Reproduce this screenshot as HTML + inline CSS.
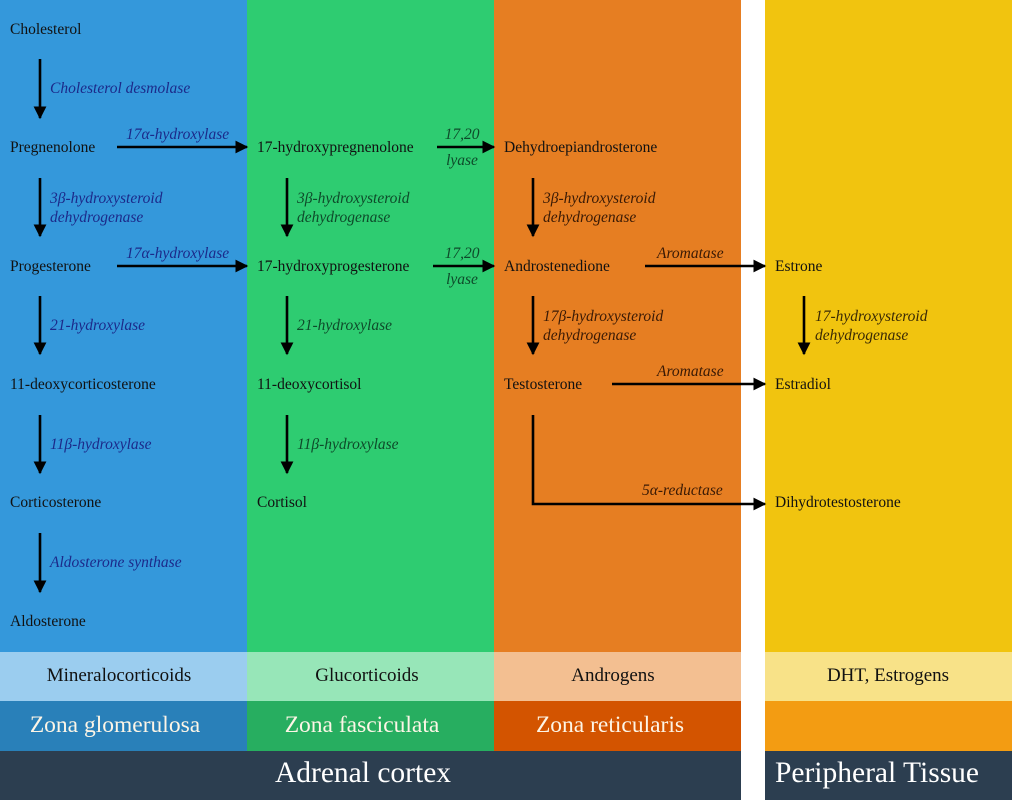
<!DOCTYPE html>
<html><head><meta charset="utf-8"><style>
html,body{margin:0;padding:0;background:#fff;}
svg{display:block;font-family:"Liberation Serif",serif;}
.t{font-size:15.5px;fill:#111;}
.e{font-size:15.5px;font-style:italic;}
</style></head><body>
<svg width="1012" height="800" viewBox="0 0 1012 800" xmlns="http://www.w3.org/2000/svg">
<defs><marker id="a" viewBox="0 0 10 10" refX="9" refY="5" markerWidth="5" markerHeight="5" orient="auto" markerUnits="strokeWidth"><path d="M0,0L10,5L0,10z" fill="#000"/></marker></defs>
<rect x="0" y="0" width="247" height="652" fill="#3498db"/>
<rect x="247" y="0" width="247" height="652" fill="#2ecc71"/>
<rect x="494" y="0" width="247" height="652" fill="#e67e22"/>
<rect x="765" y="0" width="247" height="652" fill="#f1c40f"/>
<rect x="0" y="652" width="247" height="49" fill="#9bcdef"/>
<rect x="247" y="652" width="247" height="49" fill="#97e6b8"/>
<rect x="494" y="652" width="247" height="49" fill="#f3bf91"/>
<rect x="765" y="652" width="247" height="49" fill="#f8e288"/>
<rect x="0" y="701" width="247" height="50" fill="#2980b9"/>
<rect x="247" y="701" width="247" height="50" fill="#27ae60"/>
<rect x="494" y="701" width="247" height="50" fill="#d35400"/>
<rect x="765" y="701" width="247" height="50" fill="#f39c12"/>
<rect x="0" y="751" width="741" height="49" fill="#2c3e50"/>
<rect x="765" y="751" width="247" height="49" fill="#2c3e50"/>
<g font-size="19" fill="#111" text-anchor="middle">
<text x="119" y="681">Mineralocorticoids</text><text x="367" y="681">Glucorticoids</text>
<text x="613" y="681">Androgens</text><text x="888" y="681">DHT, Estrogens</text></g>
<g font-size="23.5" fill="#fdf5e6" text-anchor="middle">
<text x="115" y="732">Zona glomerulosa</text><text x="362" y="732">Zona fasciculata</text>
<text x="610" y="732">Zona reticularis</text></g>
<g font-size="29.5" fill="#fff" text-anchor="middle">
<text x="363" y="782">Adrenal cortex</text><text x="877" y="782">Peripheral Tissue</text></g>
<g class="t">
<text x="10" y="34">Cholesterol</text><text x="10" y="152">Pregnenolone</text><text x="10" y="271">Progesterone</text>
<text x="10" y="389">11-deoxycorticosterone</text><text x="10" y="507">Corticosterone</text><text x="10" y="626">Aldosterone</text>
<text x="257" y="152">17-hydroxypregnenolone</text><text x="257" y="271">17-hydroxyprogesterone</text>
<text x="257" y="389">11-deoxycortisol</text><text x="257" y="507">Cortisol</text>
<text x="504" y="152">Dehydroepiandrosterone</text><text x="504" y="271">Androstenedione</text><text x="504" y="389">Testosterone</text>
<text x="775" y="271">Estrone</text><text x="775" y="389">Estradiol</text><text x="775" y="507">Dihydrotestosterone</text>
</g>
<g stroke="#000" stroke-width="2.6" fill="none" marker-end="url(#a)">
<path d="M40 59V118"/><path d="M40 178V236"/><path d="M40 296V354"/><path d="M40 415V473"/><path d="M40 533V592"/>
<path d="M287 178V236"/><path d="M287 296V354"/><path d="M287 415V473"/>
<path d="M533 178V236"/><path d="M533 296V354"/><path d="M804 296V354"/>
<path d="M117 147H247"/><path d="M117 266H247"/><path d="M437 147H494"/><path d="M433 266H494"/>
<path d="M645 266H765"/><path d="M612 384H765"/><path d="M533 415V504H765"/>
</g>
<g class="e" fill="#1c2a8a">
<text x="50" y="93">Cholesterol desmolase</text><text x="50" y="203">3β-hydroxysteroid</text><text x="50" y="222">dehydrogenase</text>
<text x="50" y="330">21-hydroxylase</text><text x="50" y="449">11β-hydroxylase</text><text x="50" y="567">Aldosterone synthase</text>
<text x="126" y="139">17α-hydroxylase</text><text x="126" y="258">17α-hydroxylase</text></g>
<g class="e" fill="#0e4a2a">
<text x="297" y="203">3β-hydroxysteroid</text><text x="297" y="222">dehydrogenase</text>
<text x="297" y="330">21-hydroxylase</text><text x="297" y="449">11β-hydroxylase</text>
<text x="462" y="139" text-anchor="middle">17,20</text><text x="462" y="165" text-anchor="middle">lyase</text>
<text x="462" y="258" text-anchor="middle">17,20</text><text x="462" y="284" text-anchor="middle">lyase</text></g>
<g class="e" fill="#3a1a05">
<text x="543" y="203">3β-hydroxysteroid</text><text x="543" y="222">dehydrogenase</text>
<text x="543" y="321">17β-hydroxysteroid</text><text x="543" y="340">dehydrogenase</text>
<text x="657" y="258">Aromatase</text><text x="657" y="376">Aromatase</text><text x="642" y="495">5α-reductase</text></g>
<g class="e" fill="#3a2a05">
<text x="815" y="321">17-hydroxysteroid</text><text x="815" y="340">dehydrogenase</text></g>
</svg>
</body></html>
